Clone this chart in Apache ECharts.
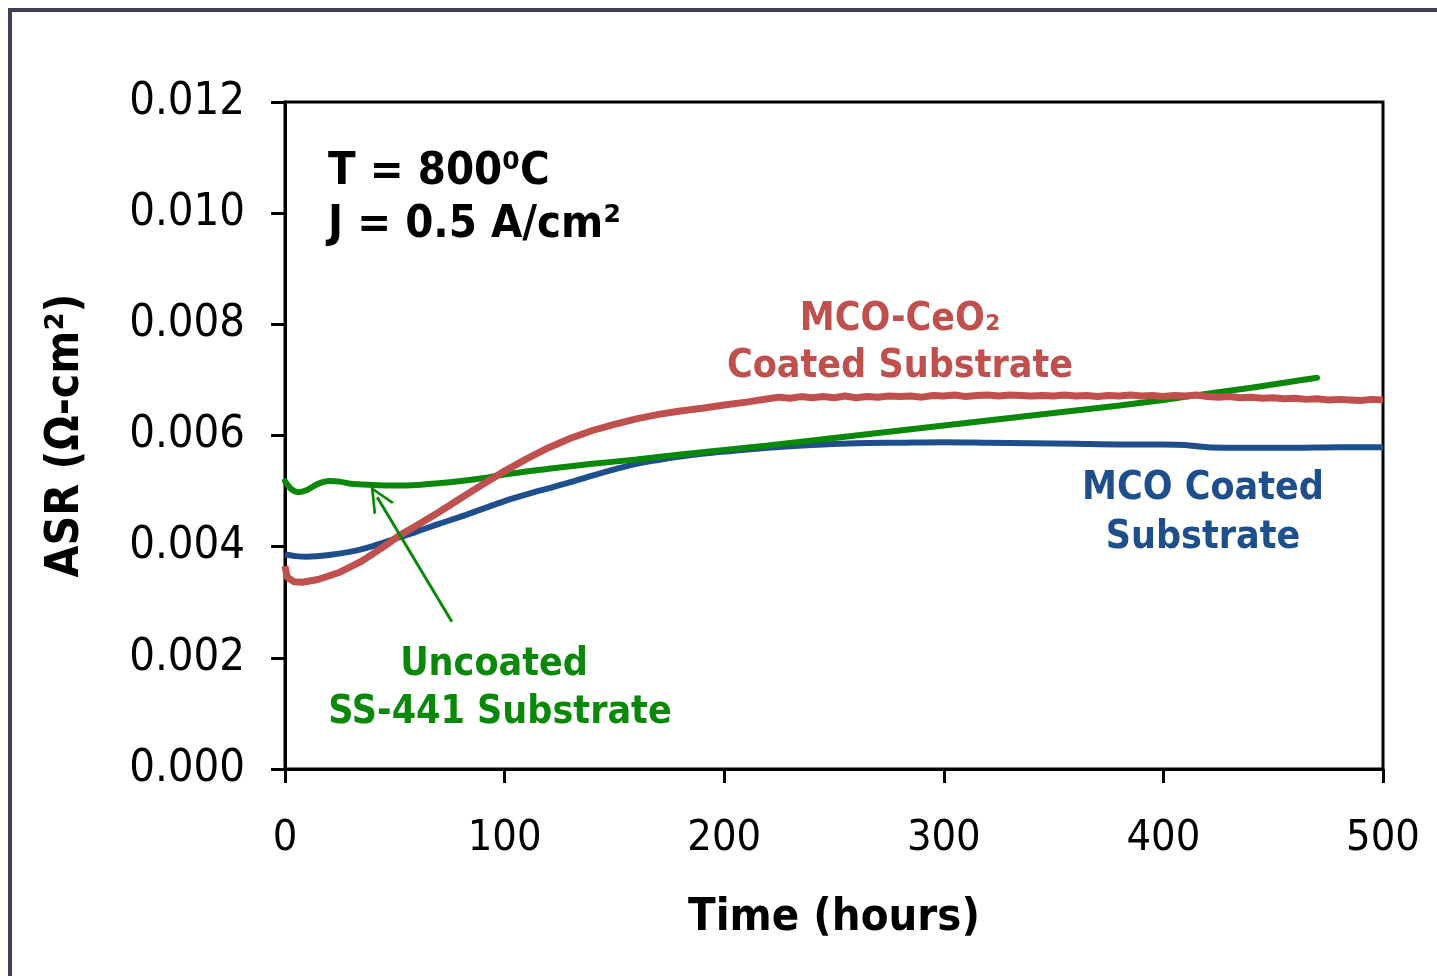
<!DOCTYPE html>
<html>
<head>
<meta charset="utf-8">
<script src="https://cdn.jsdelivr.net/npm/echarts@6/dist/echarts.min.js"></script>
<style>
  html, body { margin: 0; padding: 0; background: #fff; }
  #chart { width: 1437px; height: 976px; }
</style>
</head>
<body>
<div id="chart"></div>
<script>
// ASR vs time at 800 C, 0.5 A/cm2
var uncoatedHours = [0, 3, 6, 10, 15, 20, 25, 30, 40, 50, 60, 70, 80, 90, 100, 120, 140, 160, 180, 200,
  220, 240, 260, 280, 300, 320, 340, 360, 380, 400, 420, 440, 455, 470]
var uncoatedAsr = [0.00518, 0.00503, 0.00498, 0.00502, 0.00513, 0.00518, 0.00517, 0.00513, 0.00511, 0.00510,
  0.00511, 0.00514, 0.00518, 0.00523, 0.00530, 0.00540, 0.00549, 0.00557, 0.00566, 0.00574,
  0.00582, 0.00591, 0.00600, 0.00609, 0.00618, 0.00627, 0.00636, 0.00645, 0.00654, 0.00664,
  0.00675, 0.00686, 0.00695, 0.00704]

var mcoHours = [0, 5, 10, 20, 30, 40, 50, 60, 70, 80, 90, 100, 110, 120, 130, 140, 150, 160, 170, 180,
  190, 200, 220, 240, 260, 280, 300, 320, 340, 360, 380, 400, 410, 420, 440, 460, 480, 500]
var mcoAsr = [0.00386, 0.00383, 0.00382, 0.00385, 0.00391, 0.00401, 0.00414, 0.00427, 0.00441, 0.00454,
  0.00468, 0.00482, 0.00494, 0.00505, 0.00516, 0.00528, 0.00539, 0.00549, 0.00556, 0.00562,
  0.00567, 0.00571, 0.00578, 0.00583, 0.00586, 0.00587, 0.00588, 0.00587, 0.00586, 0.00585,
  0.00584, 0.00584, 0.00583, 0.00579, 0.00578, 0.00578, 0.00579, 0.00579]

var ceoHours = [0, 1, 4, 8, 15, 25, 35, 45, 52, 60, 70, 80, 90, 100, 110, 120, 130, 140, 150, 160,
  170, 180, 190, 200, 210, 220, 225, 230, 235, 240, 245, 250, 255, 260, 265, 270, 275, 280, 285, 290,
  295, 300, 305, 310, 315, 320, 325, 330, 335, 340, 345, 350, 355, 360, 365, 370, 375, 380, 385, 390,
  395, 400, 405, 410, 415, 420, 425, 430, 435, 440, 445, 450, 455, 460, 465, 470, 475, 480, 485, 490,
  495, 500]
var ceoAsr = [0.00365, 0.00345, 0.00337, 0.00336, 0.00341, 0.00354, 0.00374, 0.00400, 0.00420, 0.00438,
  0.00462, 0.00487, 0.00512, 0.00536, 0.00558, 0.00578, 0.00595, 0.00609, 0.00620, 0.00630,
  0.00638, 0.00644, 0.00649, 0.00655, 0.00660, 0.00666, 0.00669, 0.00667, 0.00670, 0.00668,
  0.00670, 0.00668, 0.00671, 0.00668, 0.00670, 0.00669, 0.00671, 0.00670, 0.00671, 0.00669,
  0.00672, 0.00671, 0.00673, 0.00670, 0.00672, 0.00673, 0.00671, 0.00673, 0.00672, 0.00671,
  0.00672, 0.00671, 0.00673, 0.00671, 0.00672, 0.00670, 0.00672, 0.00671, 0.00673, 0.00671,
  0.00672, 0.00670, 0.00672, 0.00671, 0.00673, 0.00670, 0.00669, 0.00670, 0.00668, 0.00669,
  0.00667, 0.00668, 0.00666, 0.00667, 0.00665, 0.00666, 0.00664, 0.00665, 0.00664, 0.00663,
  0.00665, 0.00664]

// arrow from the label to the uncoated curve (hours, ASR)
var arrowFrom = [76, 0.00265]
var arrowTo = [42, 0.00489]

var FONT = '"DejaVu Sans Condensed", "DejaVu Sans", sans-serif'
var RED = '#c0504d'
var BLUE = '#1f4e8c'
var GREEN = '#0a880a'

function pairs(xs, ys) {
  return xs.map(function(x, i) { return [x, ys[i]] })
}

function label(text, x, y, color) {
  return {
    type: 'text',
    x: x,
    y: y,
    style: {
      text: text,
      fill: color,
      font: 'bold 39px ' + FONT,
      textAlign: 'center',
      textVerticalAlign: 'middle'
    }
  }
}

var chart = echarts.init(document.getElementById('chart'))

chart.setOption({
  backgroundColor: '#fff',
  animation: false,
  grid: {
    left: 285,
    top: 102,
    right: 54,
    bottom: 207,
    show: true,
    borderColor: '#000',
    borderWidth: 3
  },
  xAxis: {
    type: 'value',
    min: 0,
    max: 500,
    interval: 100,
    name: 'Time (hours)',
    nameLocation: 'middle',
    nameGap: 127,
    nameTextStyle: { fontFamily: FONT, fontWeight: 'bold', fontSize: 45, color: '#000' },
    axisLine: { lineStyle: { color: '#000', width: 3 } },
    axisTick: { inside: false, length: 14, lineStyle: { color: '#000', width: 3 } },
    axisLabel: { fontFamily: FONT, fontSize: 43, color: '#000', margin: 48 },
    splitLine: { show: false }
  },
  yAxis: {
    type: 'value',
    min: 0,
    max: 0.012,
    interval: 0.002,
    name: 'ASR (Ω-cm²)',
    nameLocation: 'middle',
    nameGap: 196,
    nameTextStyle: { fontFamily: FONT, fontWeight: 'bold', fontSize: 46, color: '#000' },
    axisLine: { lineStyle: { color: '#000', width: 3 } },
    axisTick: { inside: false, length: 14, lineStyle: { color: '#000', width: 3 } },
    axisLabel: {
      fontFamily: FONT, fontSize: 45, color: '#000', margin: 40,
      formatter: function(v) { return v.toFixed(3) }
    },
    splitLine: { show: false }
  },
  series: [{
    name: 'Uncoated SS-441 Substrate',
    type: 'line',
    data: pairs(uncoatedHours, uncoatedAsr),
    showSymbol: false,
    smooth: 0.3,
    lineStyle: { color: GREEN, width: 6, cap: 'round' },
    z: 3,
    markLine: {
      silent: true,
      symbol: ['none', 'path://M0,0 L-9,20 L-6.8,20 L0,5 L6.8,20 L9,20 Z'],
      symbolSize: [24, 26],
      label: { show: false },
      lineStyle: { color: GREEN, width: 3, type: 'solid' },
      data: [[{ coord: arrowFrom }, { coord: arrowTo }]]
    }
  }, {
    name: 'MCO Coated Substrate',
    type: 'line',
    data: pairs(mcoHours, mcoAsr),
    showSymbol: false,
    smooth: 0.3,
    lineStyle: { color: BLUE, width: 6 },
    z: 2
  }, {
    name: 'MCO-CeO2 Coated Substrate',
    type: 'line',
    data: pairs(ceoHours, ceoAsr),
    showSymbol: false,
    lineStyle: { color: RED, width: 7 },
    z: 4
  }],
  graphic: [{
    type: 'rect',
    silent: true,
    shape: { x: 10, y: 10, width: 1600, height: 1200 },
    style: { fill: 'none', stroke: '#3f3f55', lineWidth: 4 }
  },
  {
    type: 'text', x: 328, y: 172,
    style: { text: 'T = 800⁰C', fill: '#000', font: 'bold 45px ' + FONT, textVerticalAlign: 'middle' }
  },
  {
    type: 'text', x: 328, y: 225,
    style: { text: 'J = 0.5 A/cm²', fill: '#000', font: 'bold 45px ' + FONT, textVerticalAlign: 'middle' }
  },
  label('MCO-CeO₂', 900, 320, RED),
  label('Coated Substrate', 900, 367, RED),
  label('MCO Coated', 1203, 489, BLUE),
  label('Substrate', 1203, 538, BLUE),
  label('Uncoated', 494, 665, GREEN),
  label('SS-441 Substrate', 500, 713, GREEN)
  ]
})
</script>
</body>
</html>
